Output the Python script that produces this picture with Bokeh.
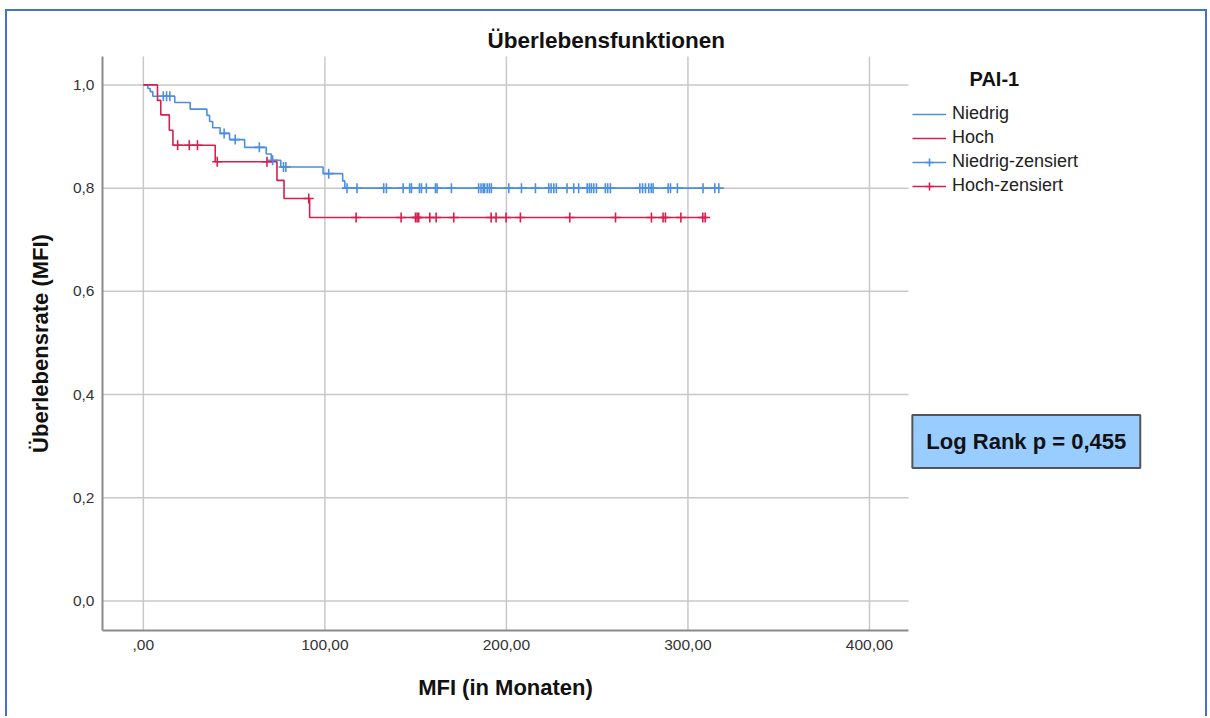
import math
import numpy as np
from bokeh.plotting import figure
from bokeh.models import FixedTicker, Label, Legend, LegendItem, ColumnDataSource, Range1d
from bokeh.embed import file_html
from bokeh.resources import INLINE

# ---------------- data ----------------
niedrig_event_t = [0.0, 2.5, 3.8, 5.2, 17.3, 25.8, 35.0, 36.5, 38.2, 42.3, 47.5, 55.8,
                   67.7, 70.5, 75.7, 99.0, 109.8, 111.0]
niedrig_event_s = [1.0, 0.993, 0.987, 0.978, 0.966, 0.953, 0.941, 0.929, 0.917, 0.906, 0.894, 0.879,
                   0.866, 0.854, 0.841, 0.828, 0.814, 0.800]
niedrig_censored_t = [11.0, 12.8, 14.6, 44.5, 50.6, 63.9, 71.2, 77.2, 78.5, 102.1,
                      112.2, 117.7, 132.4, 133.9, 143.1, 146.7, 147.7, 152.1, 153.2, 155.9,
                      160.9, 161.8, 169.7, 184.7, 186.0, 187.2, 188.0, 189.4, 190.6, 191.7,
                      201.3, 208.3, 216.0, 223.3, 224.6, 226.1, 227.5, 233.4, 237.1, 239.8,
                      244.5, 245.7, 246.8, 248.1, 249.6, 254.5, 255.8, 257.3, 273.5, 275.0,
                      276.6, 278.4, 279.8, 280.8, 289.1, 290.4, 294.2, 308.3, 314.8, 317.0]

hoch_event_t = [0.0, 7.8, 9.6, 14.3, 16.3, 39.6, 73.6, 77.5, 91.6]
hoch_event_s = [1.0, 0.970, 0.942, 0.912, 0.883, 0.851, 0.815, 0.780, 0.743]
hoch_censored_t = [18.9, 25.3, 29.8, 40.7, 68.1, 91.1, 117.2, 142.0, 149.9, 150.8, 151.7,
                   157.8, 161.3, 171.0, 191.6, 194.3, 199.8, 207.7, 234.9, 260.1, 279.9,
                   286.3, 287.6, 296.1, 308.2, 309.5]

group_labels = ["Niedrig", "Hoch"]
x_tick_values = [0, 100, 200, 300, 400]
x_tick_labels = [",00", "100,00", "200,00", "300,00", "400,00"]
y_tick_values = [0.0, 0.2, 0.4, 0.6, 0.8, 1.0]
y_tick_labels = ["0,0", "0,2", "0,4", "0,6", "0,8", "1,0"]
logrank_text = "Log Rank p = 0,455"

# axis extents of the plotting area (data units)
X_LO, X_HI = -22.5, 421.5
Y_LO, Y_HI = -0.057, 1.055

BLUE = "#4C8FE0"
RED = "#D4204F"
GRID = "#c8c8c8"
FONT = "Liberation Sans"

# layout (pixels) -- the frame fills the whole canvas, the axis box sits inside it
CANVAS_W, CANVAS_H = 1198, 705
BOX_LEFT, BOX_BOTTOM = 95, 86         # axis box offset from canvas left / bottom
BOX_W, BOX_H = 806, 574
px_x = BOX_W / (X_HI - X_LO)
px_y = BOX_H / (Y_HI - Y_LO)
X_MIN = X_LO - BOX_LEFT / px_x
X_MAX = X_MIN + CANVAS_W / px_x
Y_MIN = Y_LO - BOX_BOTTOM / px_y
Y_MAX = Y_MIN + CANVAS_H / px_y


def step_source(ev_t, ev_s, cens_t):
    xs = list(ev_t) + [max(cens_t)]
    ys = list(ev_s) + [ev_s[-1]]
    return ColumnDataSource(dict(x=xs, y=ys))


def censor_source(ev_t, ev_s, cens_t):
    idx = np.searchsorted(np.array(ev_t), np.array(cens_t), side="right") - 1
    return ColumnDataSource(dict(x=list(cens_t), y=[ev_s[i] for i in idx]))


p = figure(frame_width=CANVAS_W, frame_height=CANVAS_H, output_backend="svg",
           toolbar_location=None, title=None,
           x_range=Range1d(X_MIN, X_MAX), y_range=Range1d(Y_MIN, Y_MAX),
           min_border=0)
p.outline_line_color = None
p.background_fill_color = "white"
p.border_fill_color = "white"
p.styles = {"margin-left": "5px", "margin-top": "9px",
            "border-top": "2px solid #4472C4", "border-left": "2px solid #4472C4",
            "border-right": "2px solid #4472C4"}
p.xgrid.visible = False
p.ygrid.visible = False

# grid lines restricted to the axis box
p.segment(x0=x_tick_values, x1=x_tick_values, y0=[Y_LO] * len(x_tick_values),
          y1=[Y_HI] * len(x_tick_values), line_color=GRID, line_width=1.5)
p.segment(x0=[X_LO] * len(y_tick_values), x1=[X_HI] * len(y_tick_values),
          y0=y_tick_values, y1=y_tick_values, line_color=GRID, line_width=1.5)

rb = p.step("x", "y", source=step_source(niedrig_event_t, niedrig_event_s, niedrig_censored_t),
            mode="after", line_color=BLUE, line_width=1.6)
rr = p.step("x", "y", source=step_source(hoch_event_t, hoch_event_s, hoch_censored_t),
            mode="after", line_color=RED, line_width=1.6)
sb = p.scatter("x", "y", source=censor_source(niedrig_event_t, niedrig_event_s, niedrig_censored_t),
               marker="cross", size=10, line_color=BLUE, line_width=1.6)
sr = p.scatter("x", "y", source=censor_source(hoch_event_t, hoch_event_s, hoch_censored_t),
               marker="cross", size=10, line_color=RED, line_width=1.6)

# axes, fixed at the edges of the axis box
p.xaxis.fixed_location = Y_LO
p.yaxis.fixed_location = X_LO
p.xaxis.ticker = FixedTicker(ticks=x_tick_values)
p.yaxis.ticker = FixedTicker(ticks=y_tick_values)
p.xaxis.major_label_overrides = {v: l for v, l in zip(x_tick_values, x_tick_labels)}
p.yaxis.major_label_overrides = {v: l for v, l in zip(y_tick_values, y_tick_labels)}
p.xaxis.bounds = (X_LO, X_HI)
p.yaxis.bounds = (Y_LO, Y_HI)
for ax in (p.xaxis[0], p.yaxis[0]):
    ax.major_tick_line_color = None
    ax.minor_tick_line_color = None
    ax.major_tick_out = 0
    ax.major_tick_in = 0
    ax.minor_tick_out = 0
    ax.minor_tick_in = 0
    ax.axis_line_color = "#8a8a8a"
    ax.axis_line_width = 2
    ax.major_label_text_font = FONT
    ax.major_label_text_font_size = "15.5px"
    ax.major_label_text_color = "#333333"
p.xaxis.major_label_standoff = 9
p.yaxis.major_label_standoff = 8

# axis titles, centred on the axis box
p.add_layout(Label(x=(X_LO + X_HI) / 2, y=Y_LO - 57 / px_y, text="MFI (in Monaten)",
                   text_align="center", text_baseline="middle", text_font=FONT,
                   text_font_style="bold", text_font_size="22px", text_color="#111111"))
p.add_layout(Label(x=X_LO - 62 / px_x, y=(Y_LO + Y_HI) / 2, text="Überlebensrate (MFI)",
                   angle=math.pi / 2, text_align="center", text_baseline="middle",
                   text_font=FONT, text_font_style="bold", text_font_size="22px",
                   text_color="#111111"))

# title
p.add_layout(Label(x=255.0, y=1.086, text="Überlebensfunktionen", text_align="center",
                   text_baseline="middle", text_font=FONT, text_font_style="bold",
                   text_font_size="22.5px", text_color="#111111"))

# legend
legend = Legend(items=[LegendItem(label=group_labels[0], renderers=[rb]),
                       LegendItem(label=group_labels[1], renderers=[rr]),
                       LegendItem(label=group_labels[0] + "-zensiert", renderers=[rb, sb]),
                       LegendItem(label=group_labels[1] + "-zensiert", renderers=[rr, sr])],
                location=(BOX_LEFT + BOX_W + 4, 520), orientation="vertical",
                padding=4, margin=0, spacing=3, glyph_width=34, glyph_height=20,
                label_height=20, label_standoff=6,
                label_text_font=FONT, label_text_font_size="18px", label_text_color="#222222",
                border_line_color=None, background_fill_alpha=0)
p.add_layout(legend)
p.add_layout(Label(x=468.8, y=1.012, text="PAI-1", text_align="center", text_baseline="middle",
                   text_font=FONT, text_font_style="bold", text_font_size="20px",
                   text_color="#111111"))

# log rank box
p.add_layout(Label(x=486.4, y=0.309, text=logrank_text, text_align="center", text_baseline="middle",
                   text_font=FONT, text_font_style="bold", text_font_size="22px",
                   text_color="#111111", padding=14,
                   background_fill_color="#99CCFF", border_line_color="#555555",
                   border_line_width=2))

open("out.html", "w").write(file_html(p, INLINE))
